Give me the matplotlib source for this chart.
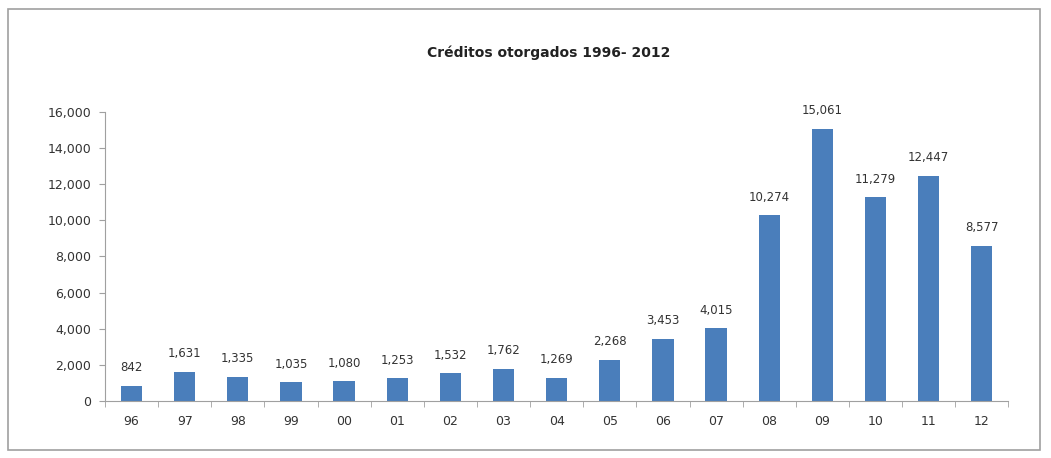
import matplotlib
matplotlib.use("Agg")
import matplotlib.pyplot as plt
from matplotlib.patches import Rectangle
import numpy as np

categories = ["96", "97", "98", "99", "00", "01", "02", "03", "04", "05", "06", "07", "08", "09", "10", "11", "12"]
values = [842, 1631, 1335, 1035, 1080, 1253, 1532, 1762, 1269, 2268, 3453, 4015, 10274, 15061, 11279, 12447, 8577]
yticks = [0, 2000, 4000, 6000, 8000, 10000, 12000, 14000, 16000]
title = "Créditos otorgados 1996- 2012"

fig = plt.figure(figsize=(10.51, 4.58), dpi=100)
fig.patches.append(Rectangle((0.008, 0.018), 0.982, 0.962, transform=fig.transFigure,
                             fill=False, edgecolor="#a0a0a0", linewidth=1.2))
ax = fig.add_axes([0.0999, 0.1245, 0.8595, 0.631])
x = np.arange(len(categories))
bars = ax.bar(x, values, width=0.40, color="#4a7ebb", zorder=2)
for xi, v in zip(x, values):
    ax.text(xi, v + 650, f"{v:,}", ha="center", va="bottom", fontsize=8.5, color="#333333")
ax.set_xlim(-0.5, len(categories) - 0.5)
ax.set_ylim(0, 16000)
ax.set_yticks(yticks)
ax.set_yticklabels([f"{t:,}" for t in yticks], fontsize=9, color="#333333")
ax.set_xticks(x)
ax.set_xticklabels(categories, fontsize=9, color="#333333")
ax.set_xticks(np.arange(-0.5, len(categories), 1.0), minor=True)
ax.tick_params(axis="x", which="major", length=0, pad=10)
ax.tick_params(axis="x", which="minor", length=4, color="#a0a0a0", direction="out")
ax.tick_params(axis="y", length=4, color="#a0a0a0", direction="out", pad=6)
for s in ["top", "right"]:
    ax.spines[s].set_visible(False)
ax.spines["left"].set_color("#a0a0a0")
ax.spines["bottom"].set_color("#a0a0a0")
fig.text(0.522, 0.885, title, ha="center", va="center", fontsize=10, fontweight="bold", color="#222222")
fig.savefig("out.png", dpi=100)
